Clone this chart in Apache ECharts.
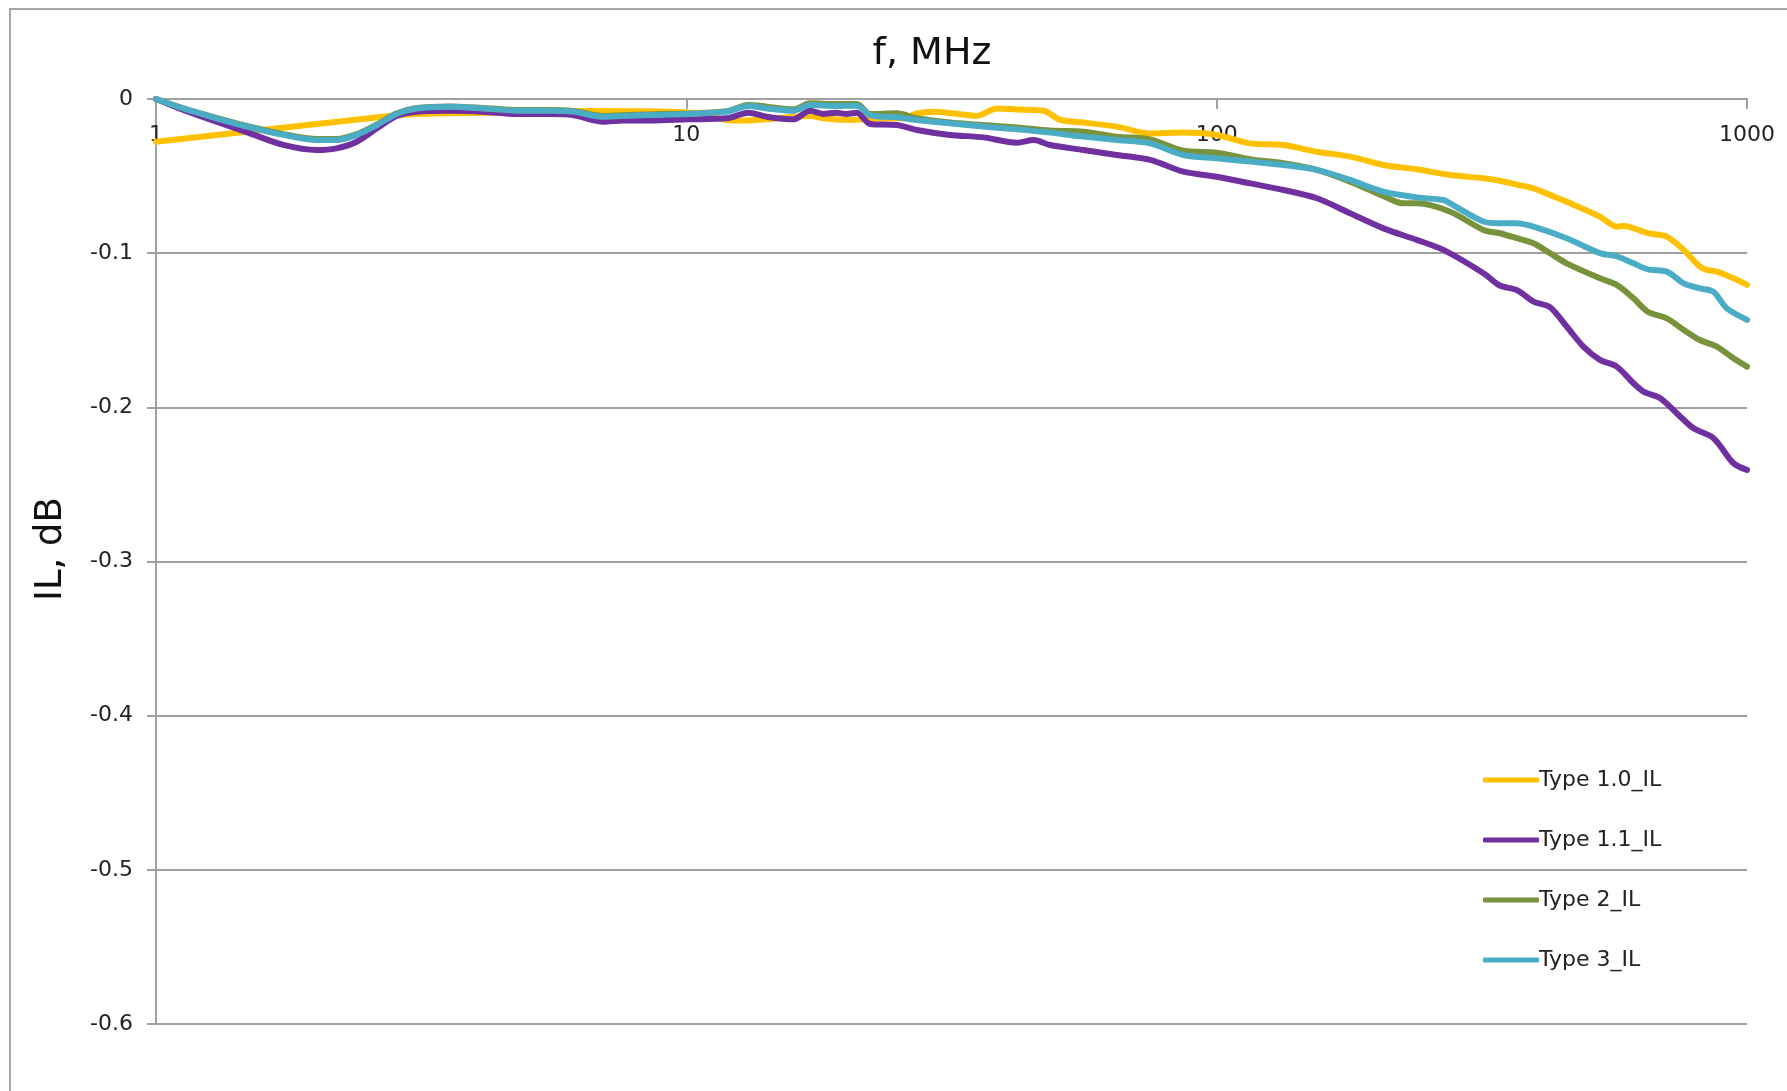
<!DOCTYPE html>
<html>
<head>
<meta charset="utf-8">
<title>IL vs frequency</title>
<script src="https://cdn.jsdelivr.net/npm/echarts@6/dist/echarts.min.js"></script>
<style>
  html, body { margin: 0; padding: 0; background: #ffffff; }
  #chart { width: 1787px; height: 1091px; }
</style>
</head>
<body>
<div id="chart"></div>
<script>
// Insertion loss (dB) against frequency (MHz) for four cable types.
const seriesNames = ['Type 1.0_IL', 'Type 1.1_IL', 'Type 2_IL', 'Type 3_IL'];
const seriesColors = ['#FFC000', '#7030A0', '#77933C', '#4BACC6'];

const type10Freq = [1, 2.68, 3.1, 4.14, 6.4, 8.54, 10.1, 11.92, 12.8, 14.18, 15.91, 17.12, 18.1, 20.3, 23.5, 25.7, 27.2, 29.3, 33.8, 35.3, 38.5, 42, 47.2, 50.7, 56.1, 64.8, 74.9, 86.5, 100, 115.6, 133.6, 154.5, 178.5, 206.3, 238.4, 275.5, 318.5, 342, 368, 395.6, 425, 457, 528, 568, 585, 650, 706, 760, 815, 840, 877, 943, 1000];
const type10IL = [-0.0277, -0.0115, -0.0097, -0.0089, -0.0078, -0.0080, -0.0089, -0.0136, -0.0140, -0.0132, -0.0115, -0.0110, -0.0125, -0.0136, -0.0125, -0.0125, -0.0093, -0.0082, -0.0104, -0.0110, -0.0061, -0.0068, -0.0076, -0.0136, -0.0153, -0.0179, -0.0223, -0.0218, -0.0233, -0.0288, -0.0298, -0.0342, -0.0374, -0.0428, -0.0456, -0.0493, -0.0514, -0.0530, -0.0555, -0.0580, -0.0622, -0.0666, -0.0763, -0.0828, -0.0823, -0.0870, -0.0893, -0.0979, -0.1087, -0.1109, -0.1120, -0.1163, -0.1206];

const type11Freq = [1, 1.126, 1.30, 1.504, 1.738, 2.01, 2.19, 2.39, 2.61, 2.84, 3.10, 3.58, 4.14, 4.79, 5.53, 6.11, 6.98, 7.61, 8.54, 10.1, 11.92, 13.09, 14.18, 15.91, 17.12, 18.1, 19.21, 20.05, 20.96, 22.21, 24.93, 27.2, 31.4, 36.3, 42, 45.2, 48.5, 56.1, 64.8, 74.9, 86.5, 100, 115.6, 133.6, 154.5, 178.5, 206.3, 238.4, 267.6, 318.5, 342, 368, 395.6, 425, 457, 491.5, 528, 568, 611, 638, 686, 737, 793, 865, 943, 1000];
const type11IL = [0, -0.0071, -0.0147, -0.0223, -0.0298, -0.0331, -0.0320, -0.0277, -0.0190, -0.0110, -0.0082, -0.0076, -0.0082, -0.0097, -0.0097, -0.0104, -0.0147, -0.0140, -0.0140, -0.0132, -0.0125, -0.0089, -0.0115, -0.0132, -0.0076, -0.0097, -0.0089, -0.0097, -0.0089, -0.0162, -0.0169, -0.0201, -0.0233, -0.0249, -0.0283, -0.0266, -0.0298, -0.0331, -0.0363, -0.0395, -0.0471, -0.0504, -0.0547, -0.0590, -0.0644, -0.0741, -0.0839, -0.0914, -0.0979, -0.1130, -0.1210, -0.1239, -0.1314, -0.1350, -0.1476, -0.1606, -0.1692, -0.1736, -0.1844, -0.1898, -0.1941, -0.2038, -0.2136, -0.2200, -0.2363, -0.2406];

const type2Freq = [1, 1.126, 1.30, 1.504, 1.738, 2.01, 2.19, 2.39, 2.61, 2.84, 3.10, 3.58, 4.14, 4.79, 5.53, 6.11, 6.98, 7.61, 8.54, 10.1, 11.92, 13.09, 14.18, 15.91, 17.12, 19.21, 20.96, 22.21, 24.93, 27.2, 31.4, 36.3, 42, 48.5, 56.1, 64.8, 74.9, 86.5, 100, 115.6, 133.6, 154.5, 178.5, 206.3, 225, 238.4, 275.5, 318.5, 342, 368, 395.6, 425, 457, 528, 568, 611, 650, 706, 760, 815, 877, 943, 1000];
const type2IL = [0, -0.0060, -0.0122, -0.0180, -0.0228, -0.0260, -0.0260, -0.0228, -0.0165, -0.0094, -0.0058, -0.0048, -0.0058, -0.0072, -0.0072, -0.0078, -0.0110, -0.0105, -0.0100, -0.0094, -0.0080, -0.0039, -0.0050, -0.0067, -0.0028, -0.0033, -0.0033, -0.0097, -0.0093, -0.0125, -0.0153, -0.0169, -0.0184, -0.0205, -0.0212, -0.0244, -0.0262, -0.0335, -0.0348, -0.0391, -0.0417, -0.0460, -0.0536, -0.0629, -0.0677, -0.0677, -0.0731, -0.0849, -0.0871, -0.0903, -0.0936, -0.1000, -0.1066, -0.1163, -0.1206, -0.1293, -0.1380, -0.1423, -0.1498, -0.1563, -0.1606, -0.1682, -0.1736];

const type3Freq = [1, 1.126, 1.30, 1.504, 1.738, 2.01, 2.19, 2.39, 2.61, 2.84, 3.10, 3.58, 4.14, 4.79, 5.53, 6.11, 6.98, 7.61, 8.54, 10.1, 11.92, 13.09, 14.18, 15.91, 17.12, 19.21, 20.96, 22.21, 24.93, 27.2, 31.4, 36.3, 42, 48.5, 56.1, 64.8, 74.9, 86.5, 100, 115.6, 133.6, 154.5, 178.5, 206.3, 238.4, 267.6, 275.5, 318.5, 342, 368, 395.6, 457, 528, 568, 611, 650, 706, 760, 815, 864, 915.6, 1000];
const type3IL = [0, -0.0061, -0.0125, -0.0184, -0.0233, -0.0266, -0.0266, -0.0233, -0.0169, -0.0097, -0.0061, -0.0050, -0.0061, -0.0076, -0.0076, -0.0082, -0.0115, -0.0110, -0.0104, -0.0097, -0.0082, -0.0045, -0.0061, -0.0076, -0.0039, -0.0045, -0.0043, -0.0104, -0.0119, -0.0136, -0.0158, -0.0179, -0.0197, -0.0218, -0.0244, -0.0266, -0.0288, -0.0363, -0.0385, -0.0406, -0.0428, -0.0460, -0.0525, -0.0601, -0.0638, -0.0655, -0.0677, -0.0795, -0.0806, -0.0806, -0.0828, -0.0903, -0.1000, -0.1020, -0.1066, -0.1105, -0.1120, -0.1196, -0.1228, -0.1250, -0.1357, -0.1433];

// Y tick range (dB)
const yMin = -0.6;
const yMax = 0;
const yStep = 0.1;

const freqSets = [type10Freq, type11Freq, type2Freq, type3Freq];
const ilSets = [type10IL, type11IL, type2IL, type3IL];

const FONT = 'DejaVu Sans';
const GRID_GRAY = '#a0a0a0';

const chart = echarts.init(document.getElementById('chart'), null, { renderer: 'canvas' });

const series = seriesNames.map((name, i) => ({
  name: name,
  type: 'line',
  data: freqSets[i].map((f, k) => [f, ilSets[i][k]]),
  showSymbol: false,
  symbol: 'none',
  smooth: 0.3,
  lineStyle: { width: 6, color: seriesColors[i], cap: 'round', join: 'round' },
  itemStyle: { color: seriesColors[i] },
  emphasis: { disabled: true },
  z: 2 + i
}));

chart.setOption({
  animation: false,
  backgroundColor: '#ffffff',
  grid: {
    left: 156, right: 40, top: 99, bottom: 67,
    containLabel: false,
    outerBoundsMode: 'none'
  },
  graphic: [
    {
      type: 'rect',
      shape: { x: 10, y: 9, width: 1900, height: 1200 },
      style: { fill: 'none', stroke: '#a6a6a6', lineWidth: 2 },
      silent: true, z: 0
    },
    {
      type: 'text',
      x: 932, y: 54,
      style: {
        text: 'f, MHz',
        font: '38px "' + FONT + '"',
        fill: '#111111',
        textAlign: 'center',
        textVerticalAlign: 'middle'
      },
      silent: true
    },
    {
      type: 'text',
      x: 51, y: 549,
      rotation: Math.PI / 2,
      style: {
        text: 'IL, dB',
        font: '37px "' + FONT + '"',
        fill: '#111111',
        textAlign: 'center',
        textVerticalAlign: 'middle'
      },
      silent: true
    }
  ],
  legend: {
    orient: 'vertical',
    left: 1478,
    top: 764,
    icon: 'roundRect',
    itemWidth: 56,
    itemHeight: 5,
    itemGap: 38,
    selectedMode: false,
    data: seriesNames,
    textStyle: { fontFamily: FONT, fontSize: 22, color: '#222222', padding: [0, 0, 0, -5] }
  },
  xAxis: {
    type: 'log',
    logBase: 10,
    min: 1,
    max: 1000,
    position: 'top',
    axisLine: { show: true, onZero: false, lineStyle: { color: GRID_GRAY, width: 2 } },
    axisTick: { show: true, inside: true, length: 10, lineStyle: { color: GRID_GRAY, width: 2 } },
    minorTick: { show: false },
    axisLabel: {
      inside: true, margin: 25, fontFamily: FONT, fontSize: 22, color: '#222222', hideOverlap: false,
      formatter: v => String(Math.round(v))
    },
    splitLine: { show: false },
    minorSplitLine: { show: false }
  },
  yAxis: {
    type: 'value',
    min: yMin,
    max: yMax,
    interval: yStep,
    axisLine: { show: true, lineStyle: { color: GRID_GRAY, width: 2 } },
    axisTick: { show: true, length: 9, lineStyle: { color: GRID_GRAY, width: 2 } },
    axisLabel: {
      margin: 23, fontFamily: FONT, fontSize: 22, color: '#222222',
      formatter: v => (Math.abs(v) < 1e-9 ? '0' : (+v.toFixed(1)).toString())
    },
    splitLine: { show: true, lineStyle: { color: GRID_GRAY, width: 2 } }
  },
  series: series
});
</script>
</body>
</html>
